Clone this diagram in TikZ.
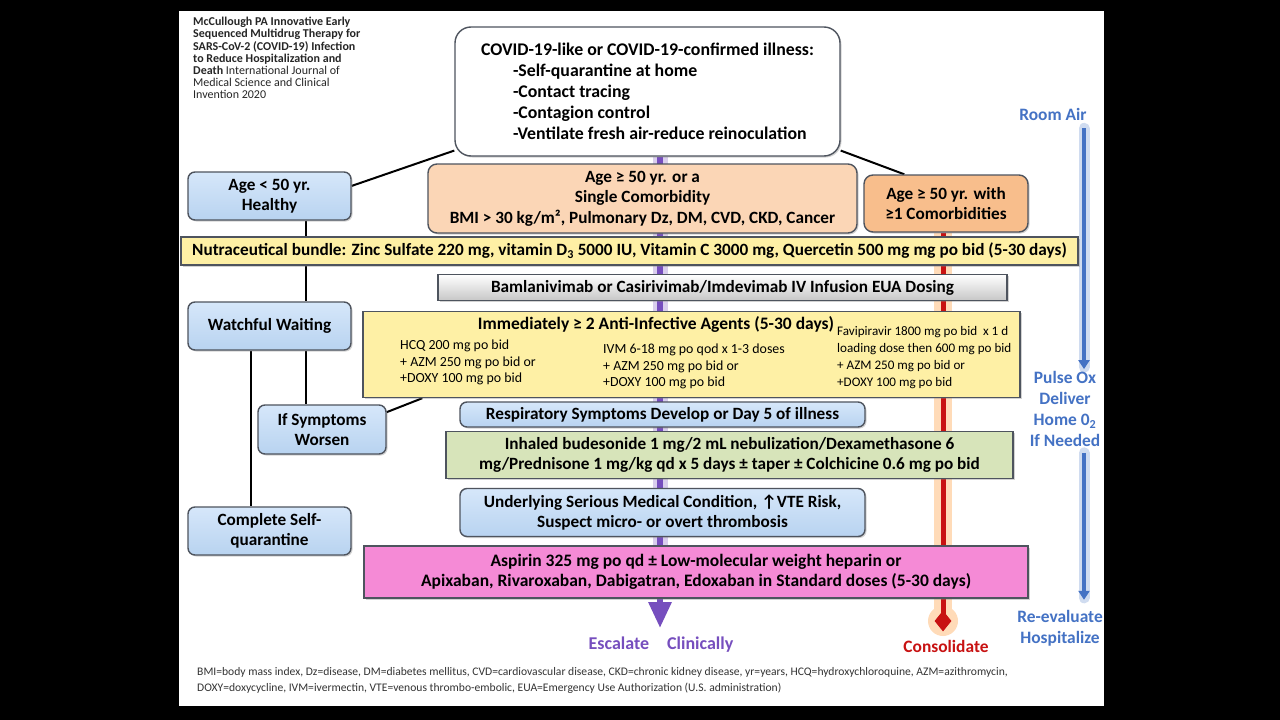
\documentclass[tikz,border=0pt]{standalone}
\usepackage{fontspec}
\setmainfont{Carlito}
\usetikzlibrary{arrows.meta,shapes.geometric,shadows}
\definecolor{boxblue}{RGB}{184,211,240}
\definecolor{boxbluetop}{RGB}{214,231,250}
\definecolor{peach}{RGB}{251,214,182}
\definecolor{apricot}{RGB}{248,190,140}
\definecolor{lemon}{RGB}{254,240,165}
\definecolor{sage}{RGB}{215,228,186}
\definecolor{orchid}{RGB}{245,138,214}
\definecolor{escpurple}{RGB}{118,78,190}
\definecolor{consred}{RGB}{200,18,18}
\definecolor{oxblue}{RGB}{68,114,196}
\definecolor{edgegray}{RGB}{78,84,94}
\pgfdeclarelayer{bg}
\pgfdeclarelayer{back}
\pgfsetlayers{bg,back,main}
\tikzset{
  plainbox/.style={draw=edgegray, line width=1.4pt, align=center, inner sep=0pt,
    font=\fontsize{17.2}{20.5}\selectfont\bfseries,
    drop shadow={opacity=0.35, shadow xshift=1.5pt, shadow yshift=-1.5pt}},
  bluebox/.style={plainbox, rounded corners=7pt, top color=boxbluetop, bottom color=boxblue},
  peachbox/.style={plainbox, rounded corners=9pt, fill=peach},
  apricotbox/.style={plainbox, rounded corners=9pt, fill=apricot},
  lemonbar/.style={plainbox, fill=lemon},
  graybar/.style={plainbox, top color=white, bottom color=black!22},
  sagebar/.style={plainbox, fill=sage},
  orchidbar/.style={plainbox, fill=orchid, font=\fontsize{17.5}{20}\selectfont\bfseries},
  druglist/.style={anchor=north west, align=left, inner sep=0pt,
    font=\fontsize{13.9}{16.5}\selectfont},
  blink/.style={draw=black, line width=2pt},
  oxlabel/.style={text=oxblue, align=center, inner sep=0pt,
    font=\fontsize{17.4}{21}\selectfont\bfseries},
  oxarrow/.style={line width=4pt, oxblue, -{Triangle[width=11pt,length=9pt]}},
  oxglow/.style={line width=11pt, oxblue!25, line cap=round}
}
\begin{document}
\begin{tikzpicture}[x=1pt,y=-1pt]
\useasboundingbox (0,0) rectangle (1280,720);
\begin{pgfonlayer}{bg}
\fill[black] (0,0) rectangle (1280,720);
\fill[white] (179,11) rectangle (1104,706);
\end{pgfonlayer}

% reference and top box
\node[anchor=north west, align=left, inner sep=0pt, text=black!85,
  font=\fontsize{12}{12.2}\selectfont] (cite) at (193,17)
  {\textbf{McCullough PA Innovative Early}\\
   \textbf{Sequenced Multidrug Therapy for}\\
   \textbf{SARS-CoV-2 (COVID-19) Infection}\\
   \textbf{to Reduce Hospitalization and}\\
   \textbf{Death} International Journal of\\
   Medical Science and Clinical\\
   Invention 2020};
\node[plainbox, rounded corners=16pt, fill=white, minimum width=385pt, minimum height=129pt,
  align=left, font=\fontsize{17.8}{21}\selectfont\bfseries] (covid) at (647.5,91.5)
  {COVID-19-like or COVID-19-confirmed illness:\\
   \hspace*{32pt}-Self-quarantine at home\\
   \hspace*{32pt}-Contact tracing\\
   \hspace*{32pt}-Contagion control\\
   \hspace*{32pt}-Ventilate fresh air-reduce reinoculation};

% risk groups
\node[bluebox, minimum width=163pt, minimum height=48pt] (young) at (269.5,196) {Age < 50 yr.\\Healthy};
\node[peachbox, minimum width=429pt, minimum height=69pt] (single) at (642.5,198.5)
  {Age ≥ 50 yr. or a\\Single Comorbidity\\BMI > 30 kg/m², Pulmonary Dz, DM, CVD, CKD, Cancer};
\node[apricotbox, minimum width=164pt, minimum height=57pt] (multi) at (946,203.5)
  {Age ≥ 50 yr. with\\≥1 Comorbidities};

% treatment steps
\node[lemonbar, minimum width=897pt, minimum height=28pt] (nutra) at (629.5,251)
  {Nutraceutical bundle: Zinc Sulfate 220 mg, vitamin D\textsubscript{3} 5000 IU, Vitamin C 3000 mg, Quercetin 500 mg mg po bid (5-30 days)};
\node[graybar, minimum width=569pt, minimum height=26pt] (bam) at (722.5,287.5)
  {Bamlanivimab or Casirivimab/Imdevimab IV Infusion EUA Dosing};
\node[bluebox, minimum width=163pt, minimum height=48pt] (watch) at (269.5,326) {Watchful Waiting};
\node[lemonbar, minimum width=657pt, minimum height=86pt] (anti) at (691.5,354.5) {};
\node[inner sep=0pt, font=\fontsize{17.5}{18}\selectfont\bfseries] (antititle) at (656,324)
  {Immediately ≥ 2 Anti-Infective Agents (5-30 days)};
\node[druglist] (hcq) at (400,340) {HCQ 200 mg po bid\\+ AZM 250 mg po bid or\\+DOXY 100 mg po bid};
\node[druglist] (ivm) at (603,344) {IVM 6-18 mg po qod x 1-3 doses\\+ AZM 250 mg po bid or\\+DOXY 100 mg po bid};
\node[druglist, font=\fontsize{13.1}{17}\selectfont] (favi) at (837,326)
  {Favipiravir 1800 mg po bid~~x 1 d\\loading dose then 600 mg po bid\\+ AZM 250 mg po bid or\\+DOXY 100 mg po bid};
\node[bluebox, minimum width=128pt, minimum height=49pt] (worse) at (322,429.5) {If Symptoms\\Worsen};
\node[bluebox, minimum width=405pt, minimum height=25pt] (resp) at (662.5,414.5)
  {Respiratory Symptoms Develop or Day 5 of illness};
\node[sagebar, minimum width=567pt, minimum height=47pt] (steroid) at (729.5,455)
  {Inhaled budesonide 1 mg/2 mL nebulization/Dexamethasone 6\\mg/Prednisone 1 mg/kg qd x 5 days ± taper ± Colchicine 0.6 mg po bid};
\node[bluebox, minimum width=405pt, minimum height=48pt] (under) at (662.5,512.5)
  {Underlying Serious Medical Condition, ↑VTE Risk,\\Suspect micro- or overt thrombosis};
\node[bluebox, minimum width=163pt, minimum height=48pt] (quar) at (269.5,531) {Complete Self-\\quarantine};
\node[orchidbar, minimum width=664pt, minimum height=52pt] (anticoag) at (696,572)
  {Aspirin 325 mg po qd ± Low-molecular weight heparin or\\Apixaban, Rivaroxaban, Dabigatran, Edoxaban in Standard doses (5-30 days)};

% outcomes
\coordinate (esctip) at (660,628);
\node[text=escpurple, inner sep=0pt, font=\fontsize{18}{18}\selectfont\bfseries] (esc) at (661,645)
  {Escalate\hspace{18pt}Clinically};
\node[diamond, fill=consred, minimum width=17pt, minimum height=21pt, inner sep=0pt] (cdiam) at (943,621) {};
\node[text=consred, inner sep=0pt, font=\fontsize{17.4}{18}\selectfont\bfseries] (cons) at (946,646) {Consolidate};

% oxygen column
\coordinate (oxx) at (1084,0);
\node[oxlabel] (roomair) at (1053,114) {Room Air};
\node[oxlabel] (pulse) at (1065,409) {Pulse Ox\\Deliver\\Home 0\textsubscript{2}\\If Needed};
\node[oxlabel] (reeval) at (1060,628) {Re-evaluate\\Hospitalize};

% footnote
\node[anchor=west, inner sep=0pt, text=black!80, font=\fontsize{11.6}{12}\selectfont] (abbr1) at (197,672)
  {BMI=body mass index, Dz=disease, DM=diabetes mellitus, CVD=cardiovascular disease, CKD=chronic kidney disease, yr=years, HCQ=hydroxychloroquine, AZM=azithromycin,};
\node[anchor=west, inner sep=0pt, text=black!80, font=\fontsize{11.6}{12}\selectfont] (abbr2) at (197,688)
  {DOXY=doxycycline, IVM=ivermectin, VTE=venous thrombo-embolic, EUA=Emergency Use Authorization (U.S. administration)};

\begin{pgfonlayer}{back}
% escalation and consolidation lines
\draw[line width=15pt, escpurple!28] (covid.south -| esctip) -- ([yshift=30pt]esctip);
\draw[line width=6pt, escpurple, -{Triangle[width=22pt,length=26pt]}] (covid.south -| esctip) -- (esctip);
\draw[line width=18pt, orange!28] (multi.south -| cdiam) -- (cdiam.center);
\fill[orange!28] (cdiam.center) circle (15pt);
\draw[line width=5pt, consred] (multi.south -| cdiam) -- (cdiam.center);
% branches
\draw[blink] (covid.197) -- (young.7);
\draw[blink] (covid.343) -- (multi.145);
\draw[blink] ([xshift=36.5pt]young.south) -- ([xshift=36.5pt]watch.north);
\draw[blink] ([xshift=36.5pt]watch.south) -- ([xshift=36.5pt]watch.south |- worse.north);
\draw[blink] ([xshift=-18.5pt]watch.south) -- ([xshift=-18.5pt]watch.south |- quar.north);
\draw[blink] (worse.15) -- ([xshift=60pt]anti.south west);
% oxygen arrows
\draw[oxglow] ([yshift=-8pt]roomair.south -| oxx) -- ([yshift=4pt]pulse.north -| oxx);
\draw[oxarrow] ([yshift=-8pt]roomair.south -| oxx) -- ([yshift=2pt]pulse.north -| oxx);
\draw[oxglow] ([yshift=-6pt]pulse.south -| oxx) -- ([yshift=12pt]reeval.north -| oxx);
\draw[oxarrow] ([yshift=-6pt]pulse.south -| oxx) -- ([yshift=10pt]reeval.north -| oxx);
\end{pgfonlayer}
\end{tikzpicture}
\end{document}
